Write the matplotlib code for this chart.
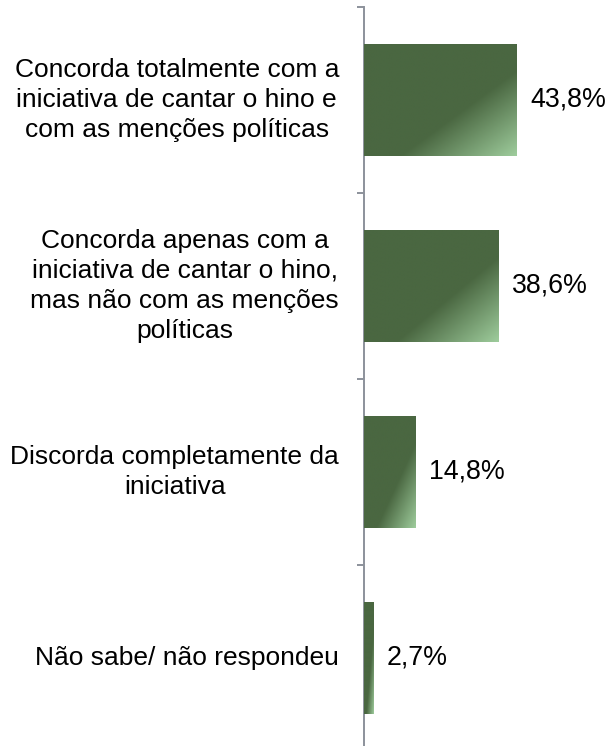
import matplotlib.pyplot as plt
import numpy as np
from matplotlib.colors import LinearSegmentedColormap

plt.rcParams['font.family'] = ['Liberation Sans', 'DejaVu Sans']

categories = [
    "Concorda totalmente com a\niniciativa de cantar o hino e\ncom as menções políticas",
    "Concorda apenas com a\niniciativa de cantar o hino,\nmas não com as menções\npolíticas",
    "Discorda completamente da\niniciativa",
    "Não sabe/ não respondeu",
]
values = [43.8, 38.6, 14.8, 2.7]

dark = "#4a6741"
light = "#9ecc9c"
cmap = LinearSegmentedColormap.from_list("bar", [(0, dark), (0.62, dark), (1, light)])

fig = plt.figure(figsize=(6.09, 7.46), dpi=100)
# axes placed in pixels: left spine at x=364, top at y=7, 186 px per category
W, H = 609, 746
ax = fig.add_axes([364 / W, 1 - 751 / H, 1 - 364 / W, 744 / H])

pos = np.arange(len(values))
bars = ax.barh(pos, values, height=0.6, color=dark, edgecolor="none")

# diagonal gradient inside each bar
u, v = np.meshgrid(np.linspace(0, 1, 200), np.linspace(0, 1, 200))
grad = (u + v) / 2
for b in bars:
    x0, y0 = b.get_x(), b.get_y()
    w, h = b.get_width(), b.get_height()
    im = ax.imshow(grad, cmap=cmap, vmin=0, vmax=1, aspect="auto",
                   extent=(x0, x0 + w, y0 + h, y0), interpolation="bilinear",
                   zorder=3)
    im.set_clip_path(b)

for i, val in enumerate(values):
    ax.annotate(f"{val:.1f}%".replace(".", ","), (val, i), xytext=(9.5, 0),
                textcoords="offset points", va="center", ha="left", fontsize=19.3)
    ax.annotate(categories[i], (0, i), xytext=(-18, 0), textcoords="offset points",
                va="center", ha="right", multialignment="center", fontsize=19,
                linespacing=1.33, annotation_clip=False)

ax.set_xlim(0, 245 / 3.49)
ax.set_ylim(len(values) - 0.5, -0.5)

for s in ["top", "right", "bottom"]:
    ax.spines[s].set_visible(False)
ax.spines["left"].set_color("#8c929b")
ax.spines["left"].set_linewidth(1.4)
ax.set_xticks([])
ax.set_yticks(np.arange(-0.5, len(values) + 0.5, 1))
ax.set_yticklabels([])
ax.tick_params(axis="y", length=5, width=1.4, color="#8c929b", direction="out")

fig.savefig("out.png", dpi=100)
